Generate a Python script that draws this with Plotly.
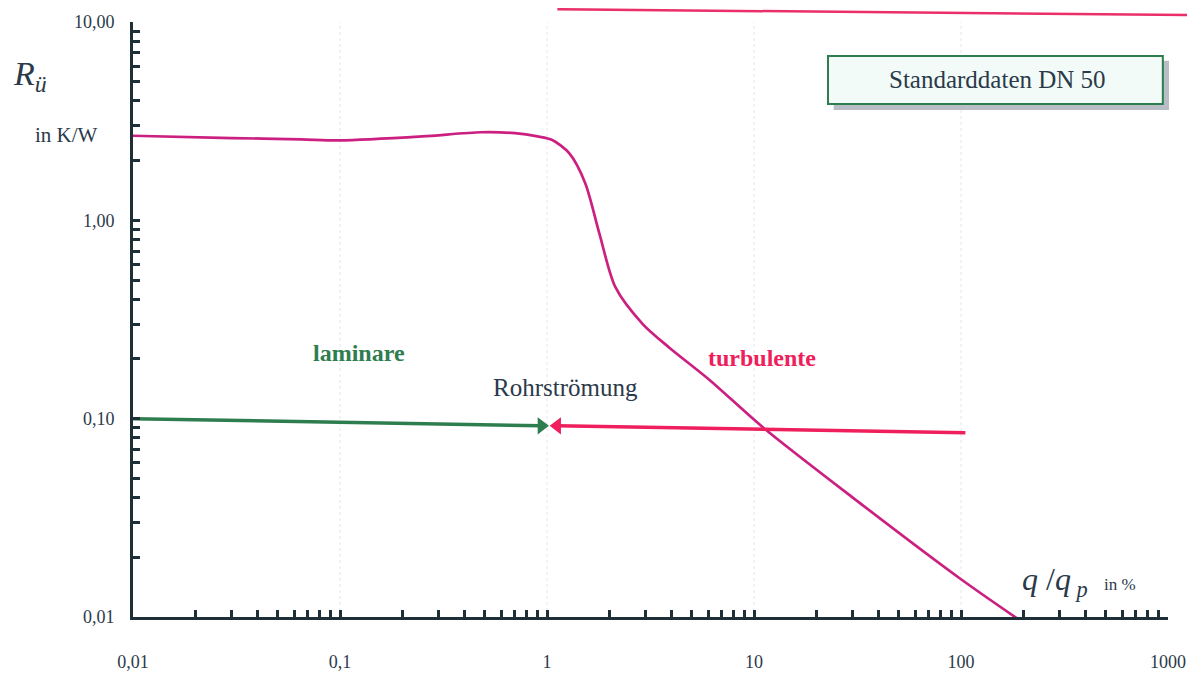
import plotly.graph_objects as go

# ---- data ----
curve_x = [0.01, 0.03, 0.065, 0.1, 0.25, 0.48, 0.7, 0.9, 1.06, 1.28, 1.53, 1.79, 2.14, 2.9, 3.9, 6.0, 11.1, 30, 100, 205]
curve_y = [2.67, 2.6, 2.56, 2.53, 2.65, 2.78, 2.75, 2.65, 2.54, 2.18, 1.54, 0.86, 0.46, 0.30, 0.228, 0.159, 0.09, 0.04, 0.0155, 0.0092]

lam_x = [0.01, 0.94]
lam_y = [0.1, 0.092]
turb_x = [1.12, 105]
turb_y = [0.092, 0.085]

x_decades = [0.01, 0.1, 1, 10, 100, 1000]
x_labels = ["0,01", "0,1", "1", "10", "100", "1000"]
y_decades = [0.01, 0.1, 1, 10]
y_labels = ["0,01", "0,10", "1,00", "10,00"]

AX = "#1f2f38"
TXT = "#2b3a4a"
GREEN = "#2e7d4f"
RED = "#ee1f5c"
MAG = "#cc2080"
FONT = "Liberation Serif"

def log_ticks(decades, labels):
    vals, text = [], []
    for i, d in enumerate(decades):
        vals.append(d)
        text.append(labels[i])
        if i < len(decades) - 1:
            for m in range(2, 10):
                vals.append(d * m)
                text.append("")
    return vals, text

xv, xt = log_ticks(x_decades, x_labels)
yv, yt = log_ticks(y_decades, y_labels)

fig = go.Figure()

fig.add_trace(go.Scatter(x=curve_x, y=curve_y, mode="lines",
                         line=dict(color=MAG, width=2.7, shape="spline", smoothing=0.8),
                         hoverinfo="skip", showlegend=False))

fig.add_trace(go.Scatter(x=lam_x, y=lam_y, mode="lines",
                         line=dict(color=GREEN, width=3.5), showlegend=False))
fig.add_trace(go.Scatter(x=[lam_x[-1]], y=[lam_y[-1]], mode="markers",
                         marker=dict(symbol="triangle-right", size=15, color=GREEN),
                         showlegend=False))
fig.add_trace(go.Scatter(x=turb_x, y=turb_y, mode="lines",
                         line=dict(color=RED, width=3.5), showlegend=False))
fig.add_trace(go.Scatter(x=[turb_x[0]], y=[turb_y[0]], mode="markers",
                         marker=dict(symbol="triangle-left", size=15, color=RED),
                         showlegend=False))

shapes = []
# faint dotted vertical grid lines
for d in x_decades[1:-1]:
    shapes.append(dict(type="line", xref="x", yref="paper", x0=d, x1=d, y0=0, y1=1,
                       line=dict(color="#e4e6e8", width=1, dash="dot"), layer="below"))
# box shadow + box
shapes.append(dict(type="rect", xref="paper", yref="paper", x0=0.677, x1=1.001, y0=0.852, y1=0.935,
                   fillcolor="#b9bec6", line=dict(width=0), layer="above"))
shapes.append(dict(type="rect", xref="paper", yref="paper", x0=0.6715, x1=0.995, y0=0.862, y1=0.943,
                   fillcolor="#f2fbf7", line=dict(color=GREEN, width=2), layer="above"))
# red line at the top edge of the page
shapes.append(dict(type="line", xref="paper", yref="paper", x0=0.41, x1=1.026, y0=1.0215, y1=1.0115,
                   line=dict(color="#ea2f6a", width=2.5)))

def ann(text, x, y, size, color, **kw):
    d = dict(text=text, x=x, y=y, xref="paper", yref="paper", showarrow=False,
             xanchor="center", yanchor="middle",
             font=dict(family=FONT, size=size, color=color))
    d.update(kw)
    return d

annotations = [
    ann("Standarddaten DN 50", 0.835, 0.903, 25, TXT),
    ann("<b>laminare</b>", 0.2184, 0.444, 24, GREEN),
    ann("<b>turbulente</b>", 0.608, 0.435, 24, RED),
    ann("Rohrströmung", 0.4174, 0.385, 25, TXT),
    ann("<i>R</i><sub><i>ü</i></sub>", -0.1, 0.91, 34, TXT),
    ann("in K/W", -0.064, 0.81, 21, TXT),
    ann("<i>q</i> /<i>q</i><sub> <i>p</i></sub>", 0.891, 0.06, 32, TXT),
    ann("in %", 0.954, 0.054, 17, TXT),
]

# the page body adds an 8px margin, so the figure is 8px smaller
fig.update_layout(
    width=1187, height=670,
    margin=dict(l=125, r=27, t=14, b=61),
    paper_bgcolor="white", plot_bgcolor="white",
    shapes=shapes, annotations=annotations,
    xaxis=dict(type="log", range=[-2, 3], tickvals=xv, ticktext=xt,
               ticks="inside", ticklen=7, tickwidth=2.5, tickcolor=AX,
               showline=True, linecolor=AX, linewidth=3, showgrid=False, zeroline=False,
               ticklabelstandoff=26, automargin=False,
               tickfont=dict(family=FONT, size=18, color=TXT)),
    yaxis=dict(type="log", range=[-2, 1], tickvals=yv, ticktext=yt,
               ticks="inside", ticklen=7, tickwidth=2.5, tickcolor=AX,
               showline=True, linecolor=AX, linewidth=3, showgrid=False, zeroline=False,
               ticklabelstandoff=12, automargin=False,
               tickfont=dict(family=FONT, size=18, color=TXT)),
)

fig.write_html("out.html")
